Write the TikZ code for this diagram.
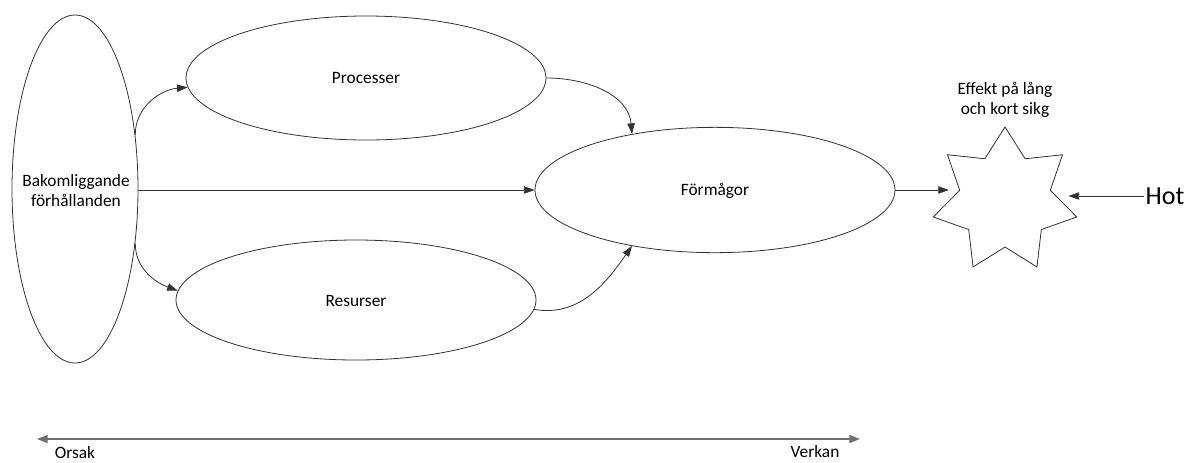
\documentclass[tikz,border=0pt]{standalone}
\usepackage{fontspec}
\setmainfont{Carlito}
\usetikzlibrary{shapes.geometric,arrows.meta}
\definecolor{linec}{RGB}{50,50,50}
\definecolor{axisc}{RGB}{110,110,110}
\tikzset{
  oval/.style={ellipse, draw=linec, line width=0.6pt, inner sep=0pt},
  txt/.style={font=\fontsize{13}{15}\selectfont, align=center, inner sep=0pt, text=black},
  conn/.style={draw=linec, line width=0.6pt, -{Triangle[length=8pt,width=5.5pt]}},
  axis/.style={draw=axisc, line width=1.2pt, {Triangle[length=8pt,width=6pt]}-{Triangle[length=8pt,width=6pt]}},
}
\begin{document}
\begin{tikzpicture}[x=0.75pt,y=-0.75pt]
\useasboundingbox (0,0) rectangle (1184,462);
% ellipses
\node[oval, minimum width=94.5pt, minimum height=261pt] (bak) at (75,189) {};
\node[txt] (baktxt) at (76,191) {Bakomliggande\\förhållanden};
\node[oval, minimum width=270pt, minimum height=93pt] (proc) at (366,78) {};
\node[txt] (proctxt) at (366,78) {Processer};
\node[oval, minimum width=270pt, minimum height=90pt] (res) at (356,300) {};
\node[txt] (restxt) at (356,301) {Resurser};
\node[oval, minimum width=270pt, minimum height=94pt] (form) at (715,190) {};
\node[txt] (formtxt) at (715,191) {Förmågor};
% star
\node[star, star points=7, star point ratio=1.585, minimum size=110.4pt, inner sep=0pt, draw=linec, line width=0.6pt] (star) at (1005,200.6) {};
\node[txt] (effekt) at (1005,100) {Effekt på lång\\och kort sikg};
\node[font=\fontsize{19.5}{22}\selectfont, anchor=west, inner sep=1pt] (hot) at (1144,196) {Hot};
% connectors
\draw[conn] (bak.42) to[out=90,in=185] (proc.183);
\draw[conn] (bak.-42) to[out=-90,in=160] (res.177);
\draw[conn] (bak.east |- form.west) -- (form.west);
\draw[conn] (proc.east) to[out=0,in=95] (form.146);
\draw[conn] (res.-3) to[out=-10,in=-125] (form.214);
\draw[conn] (form.east) -- (form.east -| star.west);
\draw[conn, shorten >=5.5pt] (hot.west) -- (hot.west -| star.east);
% axis
\coordinate (orsakend) at (37,439);
\coordinate (verkanend) at (860,439);
\draw[axis] (orsakend) -- (verkanend);
\node[txt] (orsak) at (75,453) {Orsak};
\node[txt] (verkan) at (815,452) {Verkan};
\end{tikzpicture}
\end{document}
